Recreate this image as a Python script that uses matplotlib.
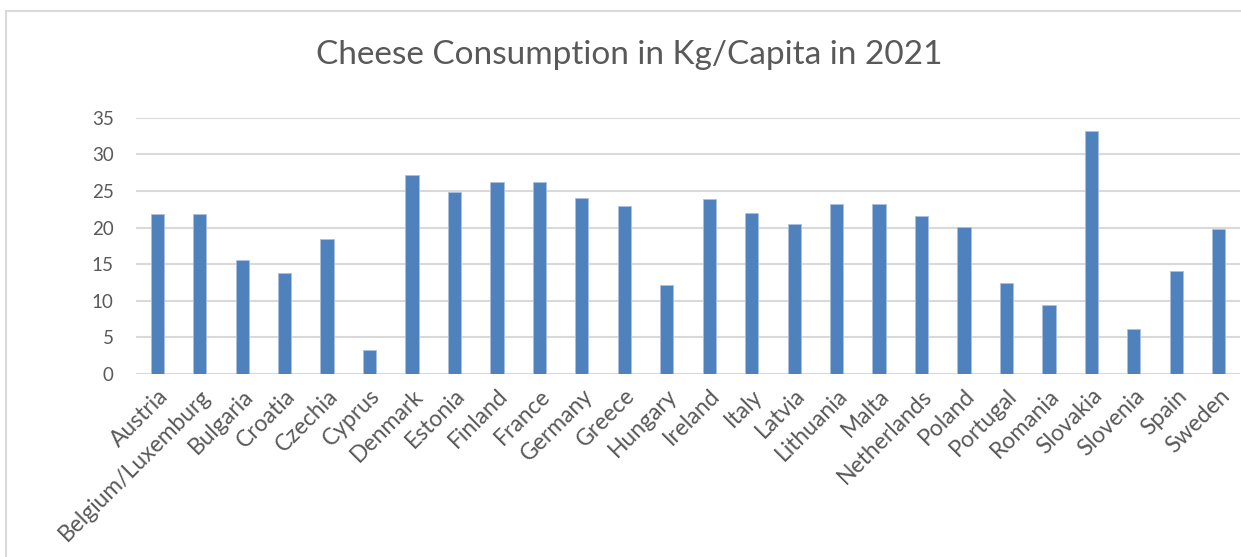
import matplotlib
matplotlib.use('Agg')
import matplotlib.pyplot as plt
from matplotlib.patches import Rectangle

# Cheese consumption per country, kg/capita, 2021
countries = ['Austria', 'Belgium/Luxemburg', 'Bulgaria', 'Croatia', 'Czechia',
             'Cyprus', 'Denmark', 'Estonia', 'Finland', 'France', 'Germany',
             'Greece', 'Hungary', 'Ireland', 'Italy', 'Latvia', 'Lithuania',
             'Malta', 'Netherlands', 'Poland', 'Portugal', 'Romania',
             'Slovakia', 'Slovenia', 'Spain', 'Sweden']
consumption = [21.8, 21.85, 15.6, 13.85, 18.4,
               3.3, 27.2, 24.8, 26.2, 26.2, 24.1,
               22.9, 12.1, 23.9, 21.95, 20.55, 23.2,
               23.2, 21.55, 20.1, 12.4, 9.4,
               33.15, 6.2, 14.0, 19.75]
yticks = [0, 5, 10, 15, 20, 25, 30, 35]

plt.rcParams['font.family'] = ['Lato', 'DejaVu Sans']
text_color = '#595959'
bar_color = '#4f81bd'

fig = plt.figure(figsize=(12.41, 5.57), dpi=100)
# outer chart border
fig.patches.append(Rectangle((6 / 1241, -0.05), 1.05, 1 - 10.5 / 557 + 0.05,
                             transform=fig.transFigure, fill=False,
                             edgecolor='#d9d9d9', linewidth=1.5))

ax = fig.add_axes([136 / 1241, 1 - 374 / 557, 1104 / 1241, (374 - 117.7) / 557])
x = range(len(countries))
ax.bar(x, consumption, width=0.31, color=bar_color, edgecolor='#a9c0de',
       linewidth=0.6, zorder=3)

ax.set_xlim(-0.5, len(countries) - 0.5)
ax.set_ylim(0, 35)
ax.set_yticks(yticks)
ax.set_xticks(list(x))
ax.set_xticklabels(countries, rotation=45, ha='right', rotation_mode='anchor')
ax.tick_params(axis='y', length=0, labelsize=13.5, colors=text_color, pad=16)
ax.tick_params(axis='x', length=0, labelsize=16.5, colors=text_color, pad=8)
ax.grid(axis='y', color='#d9d9d9', linewidth=1.5, zorder=0)
for s in ax.spines.values():
    s.set_visible(False)

fig.text(629 / 1241, 1 - 55 / 557, 'Cheese Consumption in Kg/Capita in 2021',
         ha='center', va='center', fontsize=24, color=text_color)

fig.savefig('out.png', dpi=100)
